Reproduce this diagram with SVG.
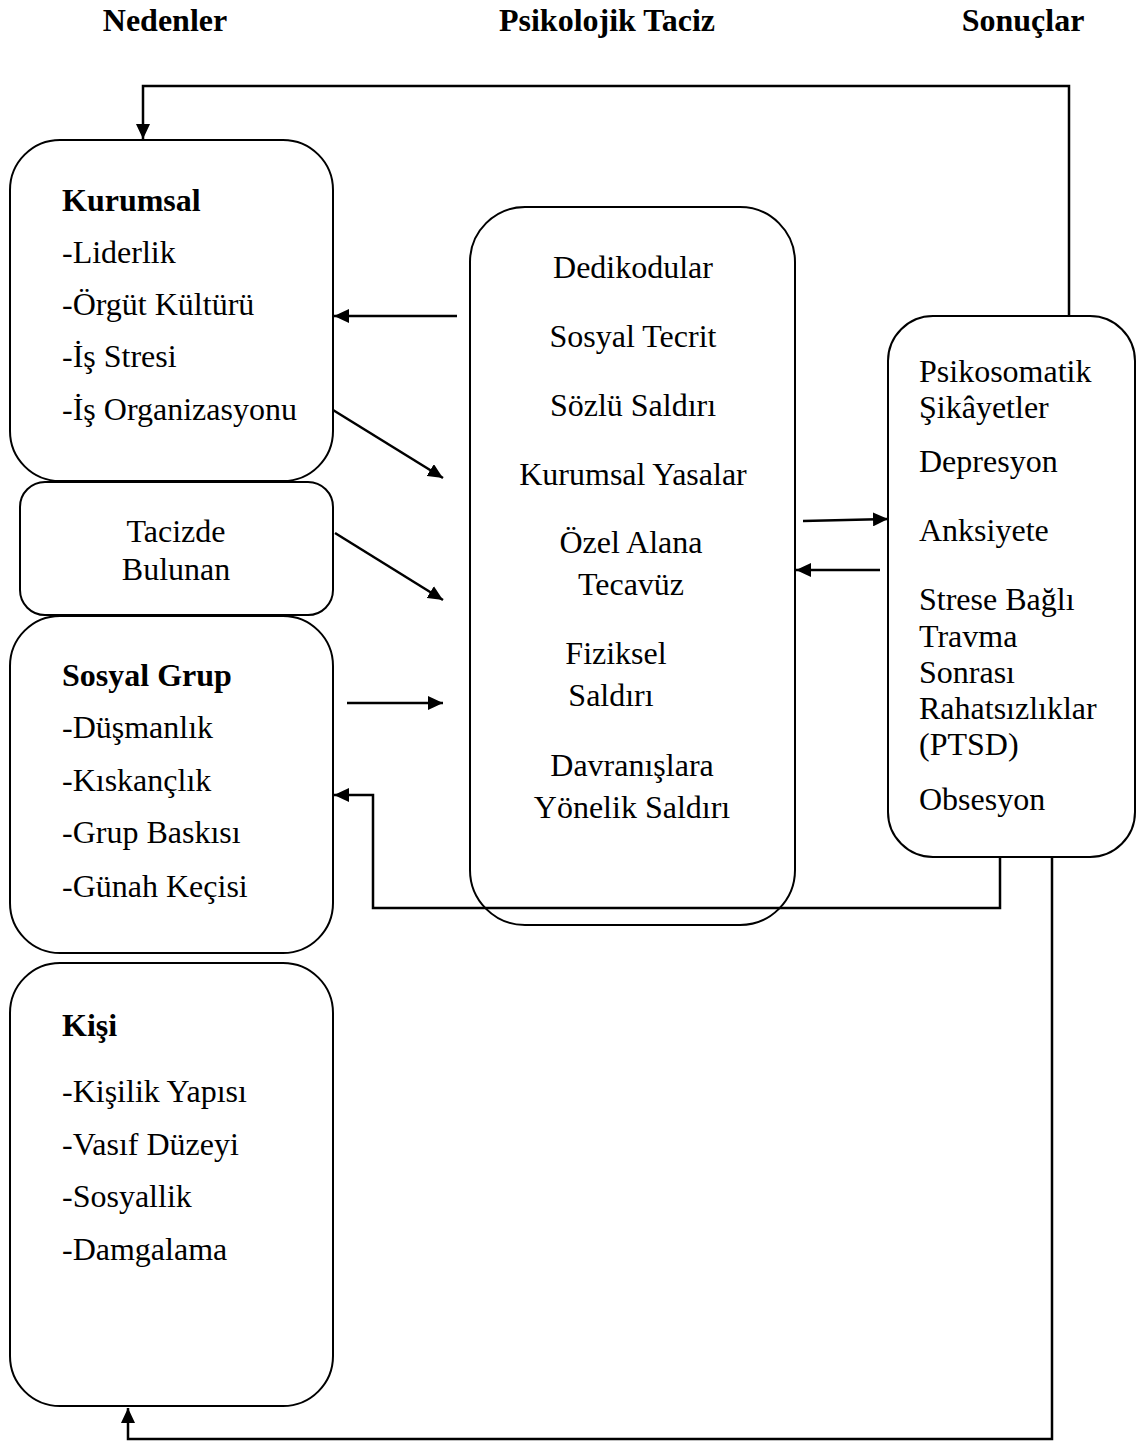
<svg xmlns="http://www.w3.org/2000/svg" width="1142" height="1443" viewBox="0 0 1142 1443">
<defs>
<marker id="ah" markerWidth="15" markerHeight="14" refX="15" refY="7" orient="auto" markerUnits="userSpaceOnUse" viewBox="0 0 15 14">
<path d="M0,0 L15,7 L0,14 z" fill="#000"/>
</marker>
<style>
.box{fill:#fff;stroke:#000;stroke-width:2}
.t{font-family:"Liberation Serif","Times New Roman",serif;font-size:32px;fill:#000}
.h{font-family:"Liberation Serif","Times New Roman",serif;font-size:32px;font-weight:bold;fill:#000}
.c{text-anchor:middle}
.ln{fill:none;stroke:#000;stroke-width:2.5}
.ar{fill:none;stroke:#000;stroke-width:2.5;marker-end:url(#ah)}
</style>
</defs>
<rect width="1142" height="1443" fill="#fff"/>
<g id="headers">
<text class="h c" x="165" y="31">Nedenler</text>
<text class="h c" x="607" y="31">Psikolojik Taciz</text>
<text class="h c" x="1023" y="31">Sonuçlar</text>
</g>
<g id="kurumsal">
<rect class="box" x="10" y="140" width="323" height="341" rx="50"/>
<text class="h" x="62" y="211">Kurumsal</text>
<text class="t" x="62" y="263">-Liderlik</text>
<text class="t" x="62" y="315">-Örgüt Kültürü</text>
<text class="t" x="62" y="367">-İş Stresi</text>
<text class="t" x="62" y="420">-İş Organizasyonu</text>
</g>
<g id="tacizde">
<rect class="box" x="20" y="482" width="313" height="133" rx="25"/>
<text class="t c" x="176" y="542">Tacizde</text>
<text class="t c" x="176" y="580">Bulunan</text>
</g>
<g id="sosyal">
<rect class="box" x="10" y="616" width="323" height="337" rx="50"/>
<text class="h" x="62" y="686">Sosyal Grup</text>
<text class="t" x="62" y="738">-Düşmanlık</text>
<text class="t" x="62" y="791">-Kıskançlık</text>
<text class="t" x="62" y="843">-Grup Baskısı</text>
<text class="t" x="62" y="897">-Günah Keçisi</text>
</g>
<g id="kisi">
<rect class="box" x="10" y="963" width="323" height="443" rx="50"/>
<text class="h" x="62" y="1036">Kişi</text>
<text class="t" x="62" y="1102">-Kişilik Yapısı</text>
<text class="t" x="62" y="1155">-Vasıf Düzeyi</text>
<text class="t" x="62" y="1207">-Sosyallik</text>
<text class="t" x="62" y="1260">-Damgalama</text>
</g>
<g id="taciz">
<rect class="box" x="470" y="207" width="325" height="718" rx="55"/>
<text class="t c" x="633" y="278">Dedikodular</text>
<text class="t c" x="633" y="347">Sosyal Tecrit</text>
<text class="t c" x="633" y="416">Sözlü Saldırı</text>
<text class="t c" x="633" y="485">Kurumsal Yasalar</text>
<text class="t c" x="631" y="553">Özel Alana</text>
<text class="t c" x="631" y="595">Tecavüz</text>
<text class="t c" x="616" y="664">Fiziksel</text>
<text class="t c" x="611" y="706">Saldırı</text>
<text class="t c" x="632" y="776">Davranışlara</text>
<text class="t c" x="632" y="818">Yönelik Saldırı</text>
</g>
<g id="sonuclar">
<rect class="box" x="888" y="316" width="247" height="541" rx="45"/>
<text class="t" x="919" y="382">Psikosomatik</text>
<text class="t" x="919" y="418">Şikâyetler</text>
<text class="t" x="919" y="472">Depresyon</text>
<text class="t" x="919" y="541">Anksiyete</text>
<text class="t" x="919" y="610">Strese Bağlı</text>
<text class="t" x="919" y="647">Travma</text>
<text class="t" x="919" y="683">Sonrası</text>
<text class="t" x="919" y="719">Rahatsızlıklar</text>
<text class="t" x="919" y="755">(PTSD)</text>
<text class="t" x="919" y="810">Obsesyon</text>
</g>
<g id="connectors">
<path class="ar" d="M1069,316 V86 H143 V139"/>
<path class="ar" d="M457,316 H334"/>
<path class="ar" d="M333,410 L443,478"/>
<path class="ar" d="M335,533 L443,600"/>
<path class="ar" d="M347,703 H443"/>
<path class="ar" d="M803,521 L888,519"/>
<path class="ar" d="M880,570 H796"/>
<path class="ar" d="M1000,857 V908 H373 V795 H334"/>
<path class="ar" d="M1052,857 V1439 H128 V1408"/>
</g>
</svg>
